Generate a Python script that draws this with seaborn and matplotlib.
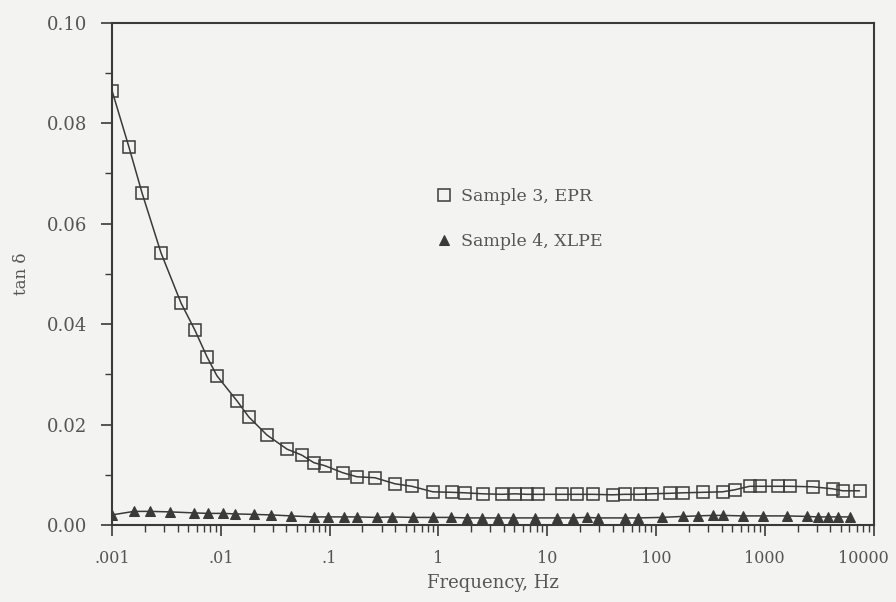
import numpy as np
import pandas as pd
import matplotlib
matplotlib.use('Agg')
import matplotlib.pyplot as plt
import matplotlib.transforms as mtransforms
import seaborn as sns
from matplotlib.ticker import FixedLocator, FixedFormatter, LogLocator, NullFormatter, MultipleLocator

# Sample 3, EPR (tan delta vs frequency)
freq_epr = [0.001, 0.00143, 0.00189, 0.00282, 0.00431, 0.00578, 0.00746, 0.00922,
            0.0141, 0.0181, 0.0266, 0.0406, 0.0556, 0.0717, 0.0905, 0.132, 0.178,
            0.261, 0.398, 0.570, 0.889, 1.33, 1.75, 2.56, 3.83, 5.04, 6.49, 8.19,
            13.6, 18.7, 26.2, 40.0, 51.5, 70.8, 91.3, 134, 176, 268, 410, 529,
            726, 897, 1313, 1691, 2750, 4200, 5190, 7430]
tan_epr = [0.0865, 0.0753, 0.0661, 0.0542, 0.0442, 0.0388, 0.0335, 0.0297,
           0.0247, 0.0215, 0.0179, 0.0151, 0.0139, 0.0124, 0.0118, 0.0104, 0.0096,
           0.0094, 0.0082, 0.0077, 0.0066, 0.0065, 0.0064, 0.0062, 0.0061, 0.0062,
           0.0061, 0.0061, 0.0061, 0.0061, 0.0061, 0.0060, 0.0061, 0.0061, 0.0062,
           0.0063, 0.0064, 0.0065, 0.0066, 0.0070, 0.0077, 0.0077, 0.0077, 0.0077,
           0.0076, 0.0072, 0.0068, 0.0068]

# Sample 4, XLPE
freq_xlpe = [0.001, 0.00159, 0.00223, 0.00341, 0.00567, 0.00762, 0.0105, 0.0135,
             0.0201, 0.0289, 0.0441, 0.0717, 0.0965, 0.135, 0.178, 0.272, 0.373,
             0.582, 0.889, 1.30, 1.82, 2.5, 3.5, 4.83, 7.68, 12.2, 17.2, 23.1,
             29.1, 51.5, 67.8, 113, 176, 241, 332, 410, 627, 955, 1589, 2422,
             3055, 3777, 4670, 6013]
tan_xlpe = [0.0020, 0.0027, 0.0027, 0.0026, 0.0024, 0.0023, 0.0023, 0.0022,
            0.0021, 0.0020, 0.0018, 0.0016, 0.0016, 0.0016, 0.0016, 0.0015, 0.0016,
            0.0015, 0.0015, 0.0015, 0.0014, 0.0014, 0.0014, 0.0014, 0.0014, 0.0014,
            0.0014, 0.0015, 0.0014, 0.0014, 0.0014, 0.0015, 0.0017, 0.0018, 0.0019,
            0.0019, 0.0018, 0.0018, 0.0018, 0.0017, 0.0016, 0.0016, 0.0016, 0.0016]

xtick_vals = [0.001, 0.01, 0.1, 1, 10, 100, 1000, 10000]
xtick_labels = ['.001', '.01', '.1', '1', '10', '100', '1000', '10000']

df_epr = pd.DataFrame({'freq': freq_epr, 'tan': tan_epr})
df_xlpe = pd.DataFrame({'freq': freq_xlpe, 'tan': tan_xlpe})

sns.set_style('ticks')
plt.rcParams['font.family'] = ['DejaVu Serif']
bg = '#f3f3f1'
ink = '#3a3a3a'
txt = '#555555'

fig = plt.figure(figsize=(8.96, 6.02), dpi=100, facecolor=bg)
ax = fig.add_axes([0.125, 0.128, 0.85, 0.834], facecolor=bg)

sns.lineplot(data=df_epr, x='freq', y='tan', ax=ax, color=ink, lw=1.1,
             marker='s', markersize=8, markerfacecolor='none',
             markeredgecolor=ink, markeredgewidth=1.1, label='Sample 3, EPR')
sns.lineplot(data=df_xlpe, x='freq', y='tan', ax=ax, color=ink, lw=1.1,
             marker='^', markersize=6.5, markerfacecolor=ink,
             markeredgecolor=ink, label='Sample 4, XLPE')

ax.set_xscale('log')
ax.set_xlim(0.001, 10000)
ax.set_ylim(0, 0.10)
ax.xaxis.set_major_locator(FixedLocator(xtick_vals))
ax.xaxis.set_major_formatter(FixedFormatter(xtick_labels))
ax.xaxis.set_minor_locator(LogLocator(base=10, subs=np.arange(2, 10), numticks=20))
ax.xaxis.set_minor_formatter(NullFormatter())
ax.yaxis.set_major_locator(MultipleLocator(0.02))
ax.yaxis.set_minor_locator(MultipleLocator(0.01))
ax.yaxis.set_major_formatter(plt.FuncFormatter(lambda v, p: f'{v:.2f}'))

ax.tick_params(which='major', direction='out', length=8, width=1.2, color=ink,
               labelsize=12, labelcolor=txt)
ax.tick_params(axis='x', which='major', pad=10, labelsize=11.5)
ax.tick_params(axis='y', which='major', pad=10, labelsize=13)
ax.tick_params(which='minor', direction='out', length=5, width=1.0, color=ink)
for s in ax.spines.values():
    s.set_linewidth(1.5)
    s.set_color(ink)

# the last x label sits a little left of its tick, as in the reference
fig.canvas.draw()
last = ax.get_xticklabels()[-1]
last.set_transform(last.get_transform() + mtransforms.ScaledTranslation(-10 / 100, 0, fig.dpi_scale_trans))

ax.set_xlabel('Frequency, Hz', fontsize=13, color=txt, labelpad=5)
ax.set_ylabel('tan δ', fontsize=12, color=txt, labelpad=12)

leg = ax.legend(loc='center left', bbox_to_anchor=(0.415, 0.609), frameon=False,
                fontsize=12.5, handlelength=0, handletextpad=1.0, labelspacing=1.6)
for t in leg.get_texts():
    t.set_color(txt)

fig.savefig('out.png', dpi=100, facecolor=bg)
